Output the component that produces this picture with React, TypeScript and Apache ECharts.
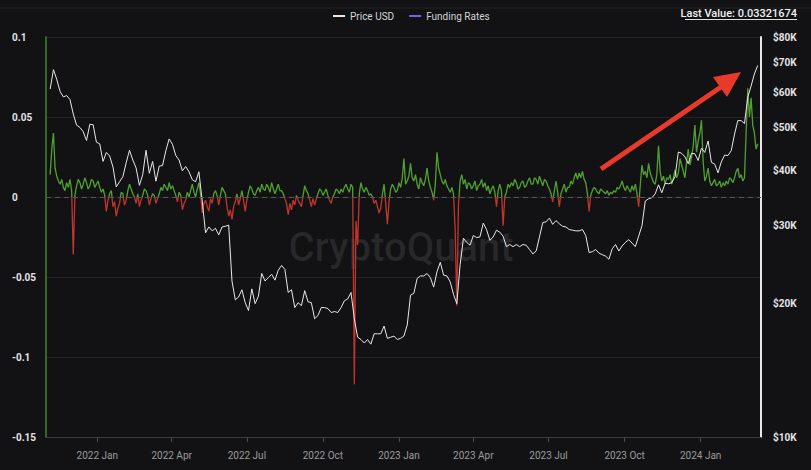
import React, { useEffect, useRef, useState } from 'react';
import * as echarts from 'echarts';

// Both series start on 2021-11-05
const START_Y = 2021;
const START_M = 10; // November (0-based)
const START_D = 5;
const PRICE_STEP_DAYS = 4;
const FUNDING_STEP_DAYS = 2;

// BTC price in thousands of USD (one value every 4 days)
const priceK = [
  61.0, 67.5, 64.2, 60.3, 58.6, 59.0, 57.8, 53.6, 50.6, 50.0,
  48.9, 46.7, 50.8, 50.7, 46.3, 45.9, 41.9, 43.9, 43.1, 40.7,
  36.7, 37.7, 38.7, 41.6, 44.4, 42.2, 40.5, 37.0, 39.1, 44.4,
  39.4, 41.9, 37.8, 40.9, 41.0, 44.3, 47.1, 45.8, 43.2, 42.2,
  39.9, 40.8, 39.7, 38.1, 37.7, 39.7, 34.1, 28.9, 29.8, 29.2,
  29.6, 28.6, 29.8, 29.9, 30.1, 22.5, 20.4, 20.7, 21.5, 20.1,
  19.3, 21.6, 20.0, 20.8, 23.4, 22.5, 22.9, 23.3, 22.6, 23.8,
  24.4, 23.9, 21.2, 21.5, 19.6, 20.1, 19.8, 21.4, 20.2, 20.1,
  18.5, 18.8, 19.6, 19.6, 19.5, 19.1, 19.2, 19.1, 19.6, 20.3,
  20.5, 21.2, 18.5, 16.8, 16.6, 16.3, 16.6, 16.2, 17.1, 17.1,
  17.1, 17.8, 16.7, 16.8, 16.9, 16.6, 16.7, 16.9, 17.9, 20.9,
  21.1, 22.8, 23.1, 23.1, 23.4, 22.9, 21.8, 23.6, 24.8, 23.2,
  23.1, 22.4, 21.0, 20.0, 24.5, 28.1, 27.5, 27.1, 28.5, 28.2,
  28.3, 30.4, 29.4, 27.8, 28.3, 29.3, 29.0, 28.4, 26.9, 27.2,
  26.9, 27.2, 26.9, 27.2, 27.1, 26.5, 25.9, 26.3, 28.3, 30.5,
  30.6, 31.2, 30.2, 30.8, 30.3, 29.9, 29.8, 29.4, 29.3, 29.2,
  29.2, 29.4, 28.5, 26.1, 26.2, 26.5, 26.0, 25.8, 25.6, 25.2,
  26.6, 27.2, 26.3, 27.0, 27.5, 27.9, 27.4, 26.9, 28.4, 30.0,
  34.1, 34.5, 34.7, 35.4, 37.1, 35.6, 37.4, 37.3, 37.5, 38.7,
  44.0, 43.7, 42.9, 41.4, 43.7, 43.6, 42.1, 44.9, 43.9, 46.6,
  41.7, 41.3, 39.5, 41.8, 43.3, 43.2, 44.3, 48.3, 51.8, 51.8,
  51.0, 58.5, 62.0, 66.0, 69.0,
];

// Funding rates (one value every 2 days)
const fundingRates = [
  0.014, 0.030, 0.040, 0.018, 0.013, 0.010, 0.008, 0.011, 0.006, 0.004, 0.009, 0.006, 0.011, 0.004, -0.036, 0.001, 0.007, 0.011, 0.009, 0.005,
  0.008, 0.012, 0.009, 0.005, 0.007, 0.011, 0.010, 0.006, 0.008, 0.010, 0.006, 0.003, 0.005, 0.001, -0.009, -0.002, 0.002, 0.004, -0.006, -0.003,
  -0.012, -0.007, -0.004, 0.003, 0.002, -0.005, -0.002, 0.004, 0.008, 0.005, 0.002, 0.000, -0.004, 0.002, -0.006, -0.002, 0.001, 0.005, 0.004, 0.001,
  -0.005, -0.001, 0.002, 0.001, -0.004, -0.001, 0.002, 0.006, 0.004, 0.008, 0.006, 0.004, 0.009, 0.005, 0.007, 0.004, 0.001, -0.003, 0.003, 0.001,
  -0.008, -0.004, -0.002, 0.003, 0.000, 0.004, 0.008, 0.003, 0.000, 0.005, 0.009, 0.002, -0.010, -0.004, -0.002, -0.006, -0.009, -0.001, -0.004, 0.002,
  0.004, 0.001, -0.005, 0.001, 0.006, 0.004, 0.002, -0.006, -0.012, -0.008, -0.014, -0.006, -0.003, 0.002, -0.005, -0.001, 0.004, -0.002, -0.009, -0.002,
  0.003, 0.007, 0.005, 0.002, 0.001, 0.004, 0.006, 0.003, 0.008, 0.005, 0.004, 0.008, 0.006, 0.003, 0.009, 0.005, 0.002, 0.005, 0.008, 0.004,
  0.004, 0.002, -0.001, -0.004, -0.011, -0.004, -0.008, -0.002, -0.005, 0.001, -0.002, -0.004, -0.006, 0.001, 0.007, 0.004, 0.002, -0.002, -0.006, -0.001,
  -0.005, -0.001, 0.002, 0.005, 0.004, 0.001, 0.003, 0.005, 0.001, -0.002, -0.004, 0.000, 0.002, 0.005, 0.004, 0.002, 0.005, 0.003, 0.006, 0.008,
  0.005, 0.003, 0.008, 0.006, -0.117, -0.015, -0.030, 0.002, 0.009, 0.005, 0.003, 0.006, 0.004, 0.001, 0.002, 0.000, -0.004, -0.002, -0.006, -0.010,
  -0.007, 0.002, 0.008, -0.004, -0.017, -0.003, 0.005, 0.008, 0.006, 0.003, 0.004, 0.009, 0.006, 0.012, 0.024, 0.008, 0.010, 0.013, 0.021, 0.012,
  0.010, 0.014, 0.008, 0.005, 0.012, 0.009, 0.007, 0.011, 0.018, 0.010, 0.006, 0.003, -0.002, 0.008, 0.028, 0.018, 0.014, 0.010, 0.008, 0.011,
  0.007, 0.005, 0.003, 0.006, 0.002, -0.020, -0.068, -0.005, 0.010, 0.014, 0.008, 0.011, 0.005, 0.009, 0.008, 0.005, 0.007, 0.010, 0.004, 0.007,
  0.008, 0.011, 0.006, 0.009, 0.004, 0.007, 0.002, 0.005, 0.007, 0.003, -0.006, 0.004, 0.008, 0.004, -0.018, 0.000, 0.003, 0.008, 0.006, 0.009,
  0.007, 0.011, 0.009, 0.005, 0.006, 0.009, 0.010, 0.006, 0.007, 0.010, 0.012, 0.008, 0.008, 0.012, 0.011, 0.008, 0.013, 0.010, 0.007, 0.011,
  0.010, 0.007, 0.005, 0.002, -0.003, 0.004, 0.010, 0.003, -0.006, 0.002, 0.005, 0.008, 0.003, 0.006, 0.006, 0.010, 0.008, 0.012, 0.015, 0.011,
  0.015, 0.012, 0.016, 0.011, 0.009, 0.002, -0.009, 0.001, 0.004, 0.006, 0.005, 0.003, 0.002, 0.005, 0.004, 0.003, 0.002, 0.004, 0.001, 0.003,
  0.002, 0.004, 0.003, 0.006, 0.005, 0.007, 0.010, 0.006, 0.004, 0.007, 0.005, 0.003, 0.007, 0.004, 0.008, 0.002, -0.006, 0.008, 0.020, 0.014,
  0.016, 0.012, 0.021, 0.015, 0.012, 0.009, 0.008, 0.014, 0.032, 0.016, 0.010, 0.013, 0.008, 0.012, 0.011, 0.014, 0.008, 0.012, 0.017, 0.012,
  0.015, 0.024, 0.020, 0.016, 0.012, 0.022, 0.030, 0.020, 0.025, 0.032, 0.045, 0.028, 0.035, 0.040, 0.048, 0.022, 0.010, 0.013, 0.018, 0.010,
  0.007, 0.009, 0.011, 0.007, 0.008, 0.010, 0.006, 0.009, 0.007, 0.010, 0.008, 0.012, 0.011, 0.009, 0.012, 0.016, 0.018, 0.012, 0.014, 0.010,
  0.012, 0.040, 0.068, 0.050, 0.062, 0.045, 0.040, 0.030, 0.03321674,
];

// Axis ticks / labels
const quarterTicks: [number, number][] = [
  [2022, 0], [2022, 3], [2022, 6], [2022, 9],
  [2023, 0], [2023, 3], [2023, 6], [2023, 9],
  [2024, 0],
];
const MONTHS = ['Jan', 'Feb', 'Mar', 'Apr', 'May', 'Jun', 'Jul', 'Aug', 'Sep', 'Oct', 'Nov', 'Dec'];
const priceTicks = [10000, 20000, 30000, 40000, 50000, 60000, 70000, 80000];
const rateMin = -0.15;
const rateMax = 0.1;
const rateInterval = 0.05;
const lastValueLabel = 'Last Value: 0.03321674';

const BG = '#121215';
const GREEN = '#50a030';
const RED = '#c0342c';

function dateAt(i: number, step: number): number {
  return new Date(START_Y, START_M, START_D + step * i).getTime();
}

export default function App() {
  const ref = useRef<HTMLDivElement>(null);
  const [err, setErr] = useState<string>('');

  useEffect(() => {
    document.body.style.margin = '0';
    document.body.style.background = BG;
    if (!ref.current) return;
    const chart = echarts.init(ref.current, undefined, { renderer: 'svg' });

    const priceData = priceK.map((v, i) => [dateAt(i, PRICE_STEP_DAYS), v * 1000]);
    const fundingData = fundingRates.map((v, i) => [dateAt(i, FUNDING_STEP_DAYS), v]);
    const xMin = new Date(2021, 9, 31).getTime();
    const xMax = new Date(2024, 2, 14).getTime();
    const quarterTs = quarterTicks.map(([y, m]) => new Date(y, m, 1).getTime());

    const labelFont = { fontFamily: 'Roboto', fontSize: 10, fontWeight: 'bold' as const, color: '#e4e4e4' };

    try {
      chart.setOption({
        animation: false,
        backgroundColor: BG,
        textStyle: { fontFamily: 'Roboto' },
        grid: { left: 46, right: 50, top: 37, bottom: 33 },
        legend: {
          data: ['Price USD', 'Funding Rates'],
          left: 328,
          top: 6,
          icon: 'rect',
          itemWidth: 12,
          itemHeight: 2,
          itemGap: 15,
          textStyle: { color: '#d4d4d4', fontSize: 10, fontFamily: 'Roboto' },
        },
        visualMap: {
          type: 'piecewise',
          show: false,
          seriesIndex: 0,
          dimension: 1,
          pieces: [
            { gte: -1, lt: 0, color: RED },
            { gte: 0, lte: 1, color: GREEN },
          ],
        },
        xAxis: {
          type: 'value',
          min: xMin,
          max: xMax,
          axisLine: { onZero: false, lineStyle: { color: '#3a3a3f', width: 1 } },
          axisTick: { show: true, customValues: quarterTs, length: 5, lineStyle: { color: '#4a4a50' } },
          axisLabel: {
            customValues: quarterTs,
            formatter: (v: number) => {
              const d = new Date(v);
              return d.getFullYear() + ' ' + MONTHS[d.getMonth()];
            },
            color: '#9c9c9c',
            fontSize: 10,
            fontFamily: 'Roboto',
            margin: 13,
          },
          splitLine: { show: false },
        },
        yAxis: [
          {
            type: 'value',
            min: rateMin,
            max: rateMax,
            interval: rateInterval,
            position: 'left',
            axisLine: { show: true, lineStyle: { color: '#3d8a29', width: 1.5 } },
            axisTick: { show: false },
            axisLabel: {
              ...labelFont,
              align: 'left',
              margin: 34,
              formatter: (v: number) => String(parseFloat(v.toFixed(2))),
            },
            splitLine: { show: true, lineStyle: { color: '#222227', width: 1 } },
          },
          {
            type: 'log',
            logBase: 10,
            min: priceTicks[0],
            max: priceTicks[priceTicks.length - 1],
            position: 'right',
            axisLine: { show: true, lineStyle: { color: '#e6e6e6', width: 2 } },
            axisTick: { show: false },
            axisLabel: { show: false },
            splitLine: { show: false },
          },
        ],
        series: [
          {
            name: 'Funding Rates',
            type: 'line',
            yAxisIndex: 0,
            data: fundingData,
            showSymbol: false,
            itemStyle: { color: '#7366dc' },
            lineStyle: { width: 1.3 },
            z: 2,
            markLine: {
              silent: true,
              symbol: ['none', 'none'],
              label: { show: false },
              lineStyle: { color: '#56565c', type: [5, 4], width: 1 },
              data: [{ yAxis: 0 }],
            },
          },
          {
            name: 'Price USD',
            type: 'line',
            yAxisIndex: 1,
            data: priceData,
            showSymbol: false,
            itemStyle: { color: '#e8e8e8' },
            lineStyle: { width: 1, color: '#e8e8e8' },
            z: 3,
          },
        ],
      });

      // Right-hand price labels placed through the log axis scale
      const axisRightX = chart.convertToPixel({ xAxisIndex: 0 }, xMax) as number;
      const priceLabels = priceTicks.map((p) => ({
        type: 'text',
        x: axisRightX + 12,
        y: chart.convertToPixel({ yAxisIndex: 1 }, p) as number,
        silent: true,
        style: {
          text: '$' + Math.round(p / 1000) + 'K',
          fill: labelFont.color,
          fontSize: 10,
          fontWeight: 'bold',
          fontFamily: 'Roboto',
          align: 'left',
          verticalAlign: 'middle',
        },
      }));

      chart.setOption({
        graphic: [
          {
            type: 'line',
            shape: { x1: 0, y1: 8, x2: 811, y2: 8 },
            style: { stroke: '#222226', lineWidth: 1 },
            silent: true,
            z: 0,
          },
          {
            type: 'text',
            x: 401,
            y: 247,
            silent: true,
            z: 0,
            style: {
              text: 'CryptoQuant',
              fill: 'rgba(255,255,255,0.09)',
              fontSize: 40,
              fontWeight: 500,
              fontFamily: 'Roboto',
              align: 'center',
              verticalAlign: 'middle',
            },
          },
          {
            type: 'text',
            x: 797,
            y: 13,
            silent: true,
            style: {
              text: lastValueLabel,
              fill: '#f0f0f0',
              fontSize: 11,
              fontWeight: 500,
              fontFamily: 'Roboto',
              align: 'right',
              verticalAlign: 'middle',
            },
          },
          {
            type: 'line',
            shape: { x1: 685, y1: 19.5, x2: 797, y2: 19.5 },
            style: { stroke: '#e0e0e0', lineWidth: 1 },
            silent: true,
          },
          {
            type: 'line',
            shape: { x1: 601, y1: 169, x2: 721, y2: 87 },
            style: { stroke: '#e83a2c', lineWidth: 5 },
            silent: true,
            z: 100,
          },
          {
            type: 'polygon',
            shape: { points: [[741, 72], [713, 77], [727, 97]] },
            style: { fill: '#e83a2c' },
            silent: true,
            z: 100,
          },
          ...priceLabels,
        ],
      });
    } catch (e: any) {
      setErr(String(e && e.stack ? e.stack : e));
    }

    return () => chart.dispose();
  }, []);

  return (
    <div style={{ position: 'relative', width: 811, height: 470 }}>
      <div ref={ref} style={{ width: 811, height: 470 }} />
      {err ? (
        <pre style={{ position: 'absolute', left: 0, top: 0, color: '#fff', fontSize: 9, whiteSpace: 'pre-wrap', margin: 0 }}>{err}</pre>
      ) : null}
    </div>
  );
}
